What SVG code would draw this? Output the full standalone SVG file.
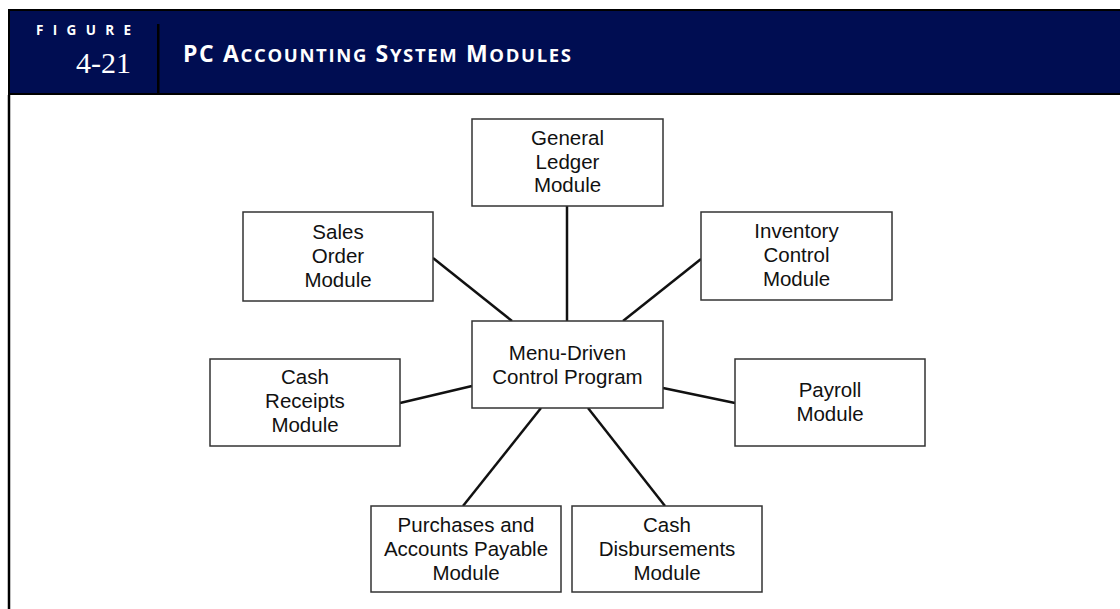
<svg xmlns="http://www.w3.org/2000/svg" width="1120" height="609" viewBox="0 0 1120 609">
  <style>
    .box { fill: #ffffff; stroke: #333333; stroke-width: 1.5; }
    .lbl { font-family: "Liberation Sans", Arial, sans-serif; font-size: 20.5px; fill: #111111; text-anchor: middle; }
    .conn line { stroke: #111111; stroke-width: 2.5; }
    .hdr { font-family: "Open Sans", "Lato", "Liberation Sans", sans-serif; font-weight: bold; fill: #ffffff; }
  </style>
  <rect x="0" y="0" width="1120" height="609" fill="#ffffff"/>
  <g id="header">
    <rect x="8" y="9" width="1112" height="86" fill="#000000"/>
    <rect x="10" y="11" width="1110" height="82" fill="#000d52"/>
    <rect x="157" y="24" width="2.5" height="69" fill="#000000"/>
    <line x1="9" y1="95" x2="9" y2="609" stroke="#000000" stroke-width="2.5"/>
    <text class="hdr" x="36" y="34.5" font-size="13.5" textLength="95" lengthAdjust="spacing">FIGURE</text>
    <text x="131" y="73" font-family="'Liberation Serif', 'Times New Roman', serif" font-size="30" fill="#ffffff" text-anchor="end">4-21</text>
    <text class="hdr" x="183" y="62" font-size="23" textLength="388" lengthAdjust="spacing">PC A<tspan font-size="18.5">CCOUNTING</tspan> S<tspan font-size="18.5">YSTEM</tspan> M<tspan font-size="18.5">ODULES</tspan></text>
  </g>
  <g id="connectors" class="conn">
    <line x1="567" y1="206" x2="567" y2="321"/>
    <line x1="433" y1="258" x2="512" y2="321"/>
    <line x1="623" y1="321" x2="701" y2="259"/>
    <line x1="400" y1="403" x2="472" y2="386"/>
    <line x1="663" y1="388" x2="735" y2="403"/>
    <line x1="541" y1="408" x2="463" y2="506"/>
    <line x1="588" y1="408" x2="665" y2="506"/>
  </g>
  <g id="general-ledger">
    <rect class="box" x="472" y="119" width="191" height="87"/>
    <text class="lbl" x="567.5" y="145">General</text>
    <text class="lbl" x="567.5" y="169">Ledger</text>
    <text class="lbl" x="567.5" y="192">Module</text>
  </g>
  <g id="sales-order">
    <rect class="box" x="243" y="212" width="190" height="89"/>
    <text class="lbl" x="338" y="239">Sales</text>
    <text class="lbl" x="338" y="263">Order</text>
    <text class="lbl" x="338" y="287">Module</text>
  </g>
  <g id="inventory-control">
    <rect class="box" x="701" y="212" width="191" height="88"/>
    <text class="lbl" x="796.5" y="238">Inventory</text>
    <text class="lbl" x="796.5" y="262">Control</text>
    <text class="lbl" x="796.5" y="286">Module</text>
  </g>
  <g id="control-program">
    <rect class="box" x="472" y="321" width="191" height="87"/>
    <text class="lbl" x="567.5" y="360">Menu-Driven</text>
    <text class="lbl" x="567.5" y="384">Control Program</text>
  </g>
  <g id="cash-receipts">
    <rect class="box" x="210" y="359" width="190" height="87"/>
    <text class="lbl" x="305" y="384">Cash</text>
    <text class="lbl" x="305" y="408">Receipts</text>
    <text class="lbl" x="305" y="432">Module</text>
  </g>
  <g id="payroll">
    <rect class="box" x="735" y="359" width="190" height="87"/>
    <text class="lbl" x="830" y="397">Payroll</text>
    <text class="lbl" x="830" y="421">Module</text>
  </g>
  <g id="purchases-ap">
    <rect class="box" x="371" y="506" width="190" height="86"/>
    <text class="lbl" x="466" y="532">Purchases and</text>
    <text class="lbl" x="466" y="556">Accounts Payable</text>
    <text class="lbl" x="466" y="580">Module</text>
  </g>
  <g id="cash-disbursements">
    <rect class="box" x="572" y="506" width="190" height="86"/>
    <text class="lbl" x="667" y="532">Cash</text>
    <text class="lbl" x="667" y="556">Disbursements</text>
    <text class="lbl" x="667" y="580">Module</text>
  </g>
</svg>
